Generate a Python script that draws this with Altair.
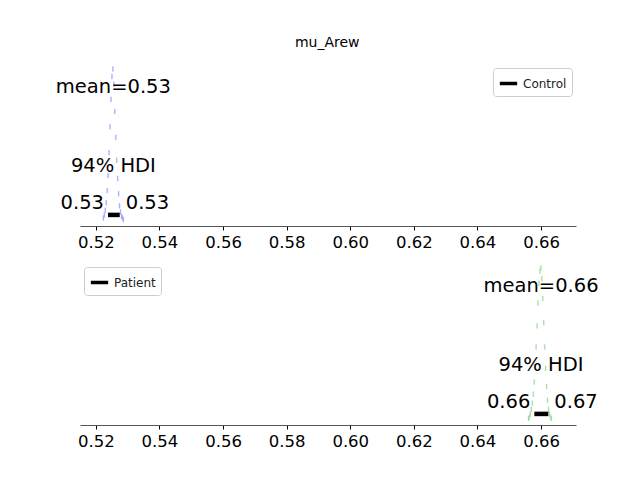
import altair as alt
import pandas as pd

# ── Data ──────────────────────────────────────────────────────────────────────
bin_width = 0.0003
control_start = 0.5222
control_counts = [0.02, 0.04, 0.07, 0.12, 0.2, 0.3, 0.45, 0.62, 0.8, 0.95, 1.0,
                  0.9, 0.72, 0.55, 0.4, 0.28, 0.18, 0.1, 0.06, 0.03, 0.02, 0.01]
patient_start = 0.6559
patient_counts = [0.01, 0.02, 0.04, 0.07, 0.11, 0.17, 0.25, 0.35, 0.48, 0.62, 0.77,
                  0.9, 0.98, 1.0, 0.93, 0.8, 0.64, 0.48, 0.34, 0.22, 0.13, 0.07,
                  0.04, 0.02, 0.01]
groups = ["Control", "Patient"]
means = [0.5255, 0.6600]
mean_labels = ["mean=0.53", "mean=0.66"]
hdi_low = [0.5238, 0.6579]
hdi_high = [0.5275, 0.6623]
hdi_low_labels = ["0.53", "0.66"]
hdi_high_labels = ["0.53", "0.67"]
colors = ["#a8a8ff", "#a6d8a6"]
ticks = [0.52, 0.54, 0.56, 0.58, 0.60, 0.62, 0.64, 0.66]

FONT = "DejaVu Sans"
xscale = alt.Scale(domain=[0.515, 0.671], nice=False, zero=False)
yscale = alt.Scale(domain=[0, 1.0], nice=False)


def panel(i, start, counts, legend_orient):
    hist = pd.DataFrame({
        "x0": [start + k * bin_width for k in range(len(counts))],
        "x1": [start + (k + 1) * bin_width for k in range(len(counts))],
        "h": counts,
    })
    bars = alt.Chart(hist).mark_bar(color=colors[i], stroke=colors[i], strokeWidth=0.3).encode(
        x=alt.X("x0:Q", scale=xscale, title=None,
                axis=alt.Axis(values=ticks, format=".2f", labelFontSize=16.5, labelFont=FONT,
                              labelColor="black", domainColor="#555", tickColor="black",
                              tickSize=4, grid=False, labelPadding=4)),
        x2="x1:Q",
        y=alt.Y("h:Q", scale=yscale, axis=None),
    )
    hdi = alt.Chart(pd.DataFrame({"lo": [hdi_low[i]], "hi": [hdi_high[i]],
                                  "y": [0.04], "g": [groups[i]]})).mark_rule(strokeWidth=4.5).encode(
        x="lo:Q", x2="hi:Q", y="y:Q",
        color=alt.Color("g:N", scale=alt.Scale(domain=[groups[i]], range=["black"]),
                        legend=alt.Legend(title=None, orient=legend_orient, symbolType="stroke",
                                          symbolStrokeWidth=3.5, symbolSize=300,
                                          labelFont=FONT, labelFontSize=12, labelColor="#222",
                                          strokeColor="#ccc", fillColor="white", padding=5,
                                          cornerRadius=3, offset=4)),
    )
    txt = pd.DataFrame({
        "x": [means[i], means[i], hdi_low[i], hdi_high[i]],
        "y": [0.88, 0.36, 0.12, 0.12],
        "t": [mean_labels[i], "94% HDI", hdi_low_labels[i], hdi_high_labels[i]],
        "a": ["center", "center", "right", "left"],
    })
    base = alt.Chart(txt).mark_text(font=FONT, fontSize=19.5, color="black", baseline="middle")
    texts = (
        base.transform_filter("datum.a == 'center'").encode(x="x:Q", y="y:Q", text="t:N")
        + base.transform_filter("datum.a == 'right'").mark_text(
            font=FONT, fontSize=19.5, align="right", dx=-4, baseline="middle").encode(
            x="x:Q", y="y:Q", text="t:N")
        + base.transform_filter("datum.a == 'left'").mark_text(
            font=FONT, fontSize=19.5, align="left", dx=6, baseline="middle").encode(
            x="x:Q", y="y:Q", text="t:N")
    )
    return (bars + hdi + texts).properties(width=496, height=162)


top = panel(0, control_start, control_counts, "top-right")
bottom = panel(1, patient_start, patient_counts, "top-left")

chart = (
    alt.vconcat(top, bottom, spacing=12)
    .resolve_scale(color="independent")
    .properties(
        title=alt.TitleParams(text="mu_Arew", font=FONT, fontSize=14, fontWeight="normal",
                              anchor="middle", offset=14),
        padding={"left": 47, "top": 28, "right": 5, "bottom": 5},
        background="white",
    )
    .configure_view(stroke=None)
)

chart.save("out.html", embed_options={"renderer": "svg", "actions": False})
